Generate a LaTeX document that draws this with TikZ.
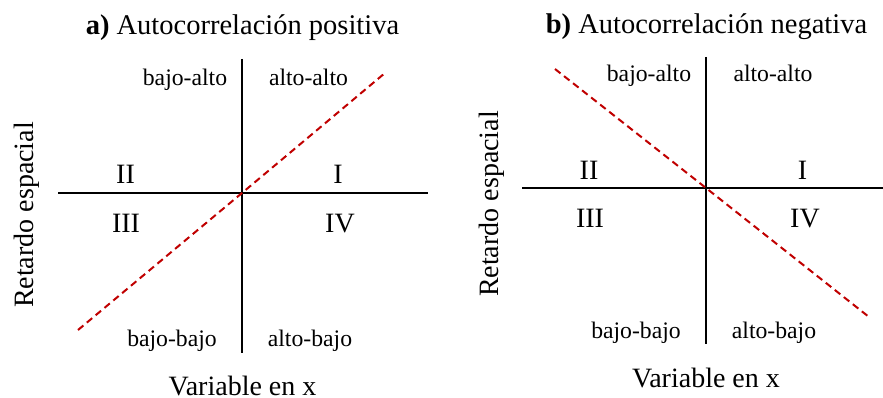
\documentclass[tikz,border=0pt]{standalone}
\usepackage{fontspec}
\setmainfont{Liberation Serif}
\definecolor{figR}{RGB}{192,0,0}
\tikzset{
  axis/.style={line width=1.5pt,black},
  diag/.style={line width=2pt,figR,dash pattern=on 7pt off 4.5pt},
  ttl/.style={anchor=base,inner sep=0pt,font=\fontsize{28.5}{32}\selectfont},
  num/.style={anchor=base,inner sep=0pt,font=\fontsize{28}{32}\selectfont},
  quad/.style={anchor=base,inner sep=0pt,font=\fontsize{23.7}{28}\selectfont},
}

\begin{document}
\begin{tikzpicture}[x=1pt,y=-1pt]
\useasboundingbox (0,0) rectangle (883,398);
% left: positive autocorrelation, cross at (242,193)
\begin{scope}
\coordinate (O) at (242,193);
\coordinate (T) at (242,59); \coordinate (B) at (242,353);
\coordinate (L) at (58,193); \coordinate (R) at (428,193);
\coordinate (D1) at (78,330); \coordinate (D2) at (385,73);
\draw[axis] (T)--(B) (L)--(R);
\draw[diag] (D1)--(O)--(D2);
\node[ttl] (ta) at (242.5,35) {\textbf{a)} Autocorrelación positiva};
\node[quad] (ba) at (185,86) {bajo-alto};
\node[quad] (aa) at (308.5,86) {alto-alto};
\node[num] (q2) at (125.5,184) {II};
\node[num] (q1) at (338,184) {I};
\node[num] (q3) at (126,232) {III};
\node[num] (q4) at (340,232) {IV};
\node[quad] (bb) at (172,346) {bajo-bajo};
\node[quad] (ab) at (310,346) {alto-bajo};
\node[num] (vx) at (242.5,395) {Variable en x};
\node[num,rotate=90] (re) at (33,215) {Retardo espacial};
\end{scope}
% right: negative autocorrelation, cross at (706,188)
\begin{scope}
\coordinate (O) at (706,188);
\coordinate (T) at (706,57); \coordinate (B) at (706,344);
\coordinate (L) at (522,188); \coordinate (R) at (883,188);
\coordinate (D1) at (555,69); \coordinate (D2) at (869,317);
\draw[axis] (T)--(B) (L)--(R);
\draw[diag] (D1)--(O)--(D2);
\node[ttl] (tb) at (706.5,34) {\textbf{b)} Autocorrelación negativa};
\node[quad] (ba) at (649,82) {bajo-alto};
\node[quad] (aa) at (773,82) {alto-alto};
\node[num] (q2) at (589,180) {II};
\node[num] (q1) at (802.5,180) {I};
\node[num] (q3) at (590,227) {III};
\node[num] (q4) at (805,227) {IV};
\node[quad] (bb) at (636,338) {bajo-bajo};
\node[quad] (ab) at (774,338) {alto-bajo};
\node[num] (vx) at (706,387) {Variable en x};
\node[num,rotate=90] (re) at (498,204) {Retardo espacial};
\end{scope}
\end{tikzpicture}
\end{document}
